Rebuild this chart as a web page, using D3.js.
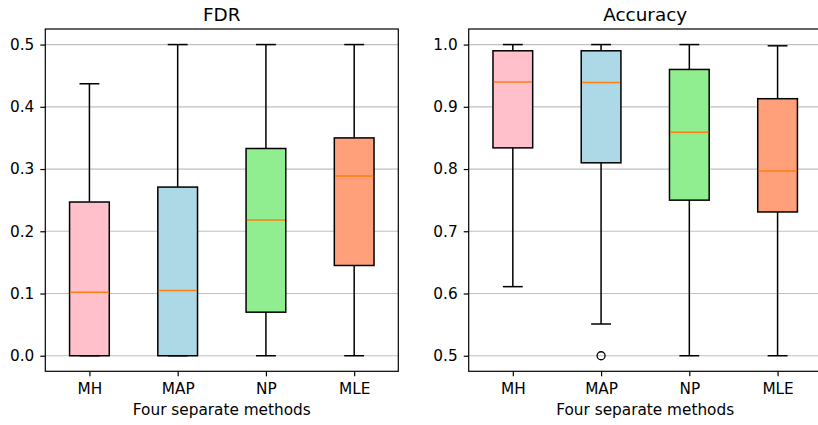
<!DOCTYPE html>
<html><head><meta charset="utf-8">
<script src="https://cdn.jsdelivr.net/npm/d3@7"></script>
<style>html,body{margin:0;padding:0;background:#fff;}svg{display:block;font-family:"DejaVu Sans",sans-serif;}</style>
</head><body>
<svg id="chart" width="818" height="425"></svg>
<script>
const methods = ["MH", "MAP", "NP", "MLE"];
const boxColors = ["#FFC0CB", "#ADD8E6", "#90EE90", "#FFA07A"];

// FDR panel
const fdrLow    = [0.0, 0.0, 0.0, 0.0];
const fdrQ1     = [0.0, 0.0, 0.070, 0.145];
const fdrMedian = [0.102, 0.105, 0.218, 0.289];
const fdrQ3     = [0.247, 0.271, 0.333, 0.350];
const fdrHigh   = [0.437, 0.5, 0.5, 0.5];
const fdrOutliers = [[], [], [], []];
const fdrTicks = [0.0, 0.1, 0.2, 0.3, 0.4, 0.5];

// Accuracy panel
const accLow    = [0.611, 0.551, 0.5, 0.5];
const accQ1     = [0.834, 0.810, 0.750, 0.731];
const accMedian = [0.940, 0.939, 0.859, 0.797];
const accQ3     = [0.990, 0.990, 0.960, 0.913];
const accHigh   = [1.0, 1.0, 1.0, 0.998];
const accOutliers = [[], [0.5], [], []];
const accTicks = [0.5, 0.6, 0.7, 0.8, 0.9, 1.0];

const svg = d3.select("#chart");
const axTop = 29, axBottom = 371.3, axW = 353;
const tickFont = "15.3px", titleFont = "18.4px";

function panel(left, title, lo, q1, med, q3, hi, outl, ticks, yDom, xlabel) {
  const g = svg.append("g");
  const x = d3.scaleLinear().domain([0.5, 4.5]).range([left, left + axW]);
  const y = d3.scaleLinear().domain(yDom).range([axBottom, axTop]);
  const bw = x(1.45) - x(1);
  g.selectAll(".grid").data(ticks).enter().append("line")
    .attr("x1", left).attr("x2", left + axW)
    .attr("y1", d => y(d)).attr("y2", d => y(d))
    .attr("stroke", "#c0c0c0").attr("stroke-width", 1.2);
  methods.forEach((m, i) => {
    const cx = x(i + 1);
    g.append("line").attr("x1", cx).attr("x2", cx).attr("y1", y(q1[i])).attr("y2", y(lo[i]))
      .attr("stroke", "#000").attr("stroke-width", 1.5);
    g.append("line").attr("x1", cx).attr("x2", cx).attr("y1", y(q3[i])).attr("y2", y(hi[i]))
      .attr("stroke", "#000").attr("stroke-width", 1.5);
    [lo[i], hi[i]].forEach(v => {
      g.append("line").attr("x1", cx - bw / 4).attr("x2", cx + bw / 4)
        .attr("y1", y(v)).attr("y2", y(v)).attr("stroke", "#000").attr("stroke-width", 1.5);
    });
    g.append("rect").attr("x", cx - bw / 2).attr("width", bw)
      .attr("y", y(q3[i])).attr("height", Math.max(0, y(q1[i]) - y(q3[i])))
      .attr("fill", boxColors[i]).attr("stroke", "#000").attr("stroke-width", 1.5);
    g.append("line").attr("x1", cx - bw / 2 + 0.75).attr("x2", cx + bw / 2 - 0.75)
      .attr("y1", y(med[i])).attr("y2", y(med[i]))
      .attr("stroke", "#ff7f0e").attr("stroke-width", 1.5);
    outl[i].forEach(v => {
      g.append("circle").attr("cx", cx).attr("cy", y(v)).attr("r", 4)
        .attr("fill", "none").attr("stroke", "#000").attr("stroke-width", 1.3);
    });
  });
  g.append("rect").attr("x", left).attr("y", axTop).attr("width", axW).attr("height", axBottom - axTop)
    .attr("fill", "none").attr("stroke", "#000").attr("stroke-width", 1.2);
  const ya = d3.axisLeft(y).tickValues(ticks).tickFormat(d3.format(".1f")).tickSize(5).tickPadding(6);
  const yg = g.append("g").attr("transform", `translate(${left},0)`).call(ya);
  yg.select(".domain").remove();
  yg.selectAll("line").attr("stroke-width", 1.2);
  yg.selectAll("text").attr("font-size", tickFont).attr("font-family", "DejaVu Sans").attr("fill", "#000");
  const xa = d3.axisBottom(x).tickValues([1, 2, 3, 4]).tickFormat((d) => methods[d - 1]).tickSize(5).tickPadding(7);
  const xg = g.append("g").attr("transform", `translate(0,${axBottom})`).call(xa);
  xg.select(".domain").remove();
  xg.selectAll("line").attr("stroke-width", 1.2);
  xg.selectAll("text").attr("font-size", tickFont).attr("font-family", "DejaVu Sans").attr("fill", "#000");
  g.append("text").attr("x", left + axW / 2).attr("y", 20.5).attr("text-anchor", "middle")
    .attr("font-size", titleFont).attr("fill", "#000").text(title);
  g.append("text").attr("x", left + axW / 2).attr("y", 415).attr("text-anchor", "middle")
    .attr("font-size", tickFont).attr("fill", "#000").text(xlabel);
}

panel(45.3, "FDR", fdrLow, fdrQ1, fdrMedian, fdrQ3, fdrHigh, fdrOutliers, fdrTicks, [-0.025, 0.525], "Four separate methods");
panel(468.7, "Accuracy", accLow, accQ1, accMedian, accQ3, accHigh, accOutliers, accTicks, [0.475, 1.025], "Four separate methods");
</script>
</body></html>
